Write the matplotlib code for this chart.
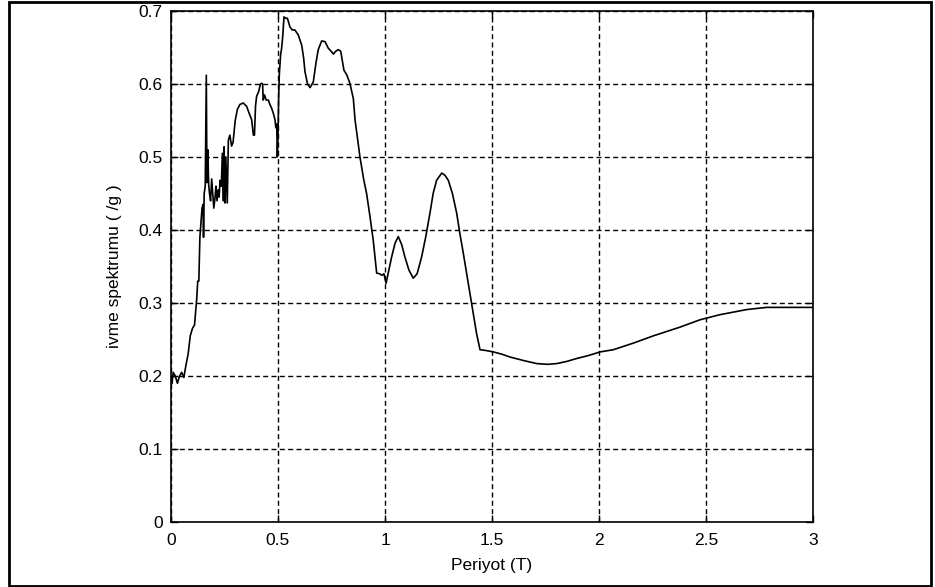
import numpy as np
import matplotlib.pyplot as plt
from matplotlib.patches import Rectangle

plt.rcParams['font.family'] = ['Liberation Sans', 'DejaVu Sans']

# spectrum: period (s) and spectral acceleration (/g)
period = [0.0, 0.005, 0.01, 0.02, 0.03, 0.04, 0.05, 0.06, 0.07, 0.08,
          0.09, 0.10, 0.11, 0.12, 0.125, 0.13, 0.135, 0.14, 0.145, 0.15,
          0.152, 0.155, 0.16, 0.165, 0.168, 0.172, 0.176, 0.18, 0.185, 0.19,
          0.195, 0.2, 0.206, 0.21, 0.215, 0.22, 0.225, 0.229, 0.235, 0.24,
          0.245, 0.248, 0.252, 0.256, 0.263, 0.268, 0.275, 0.283, 0.29, 0.3,
          0.31, 0.322, 0.338, 0.354, 0.365, 0.377, 0.385, 0.39, 0.395, 0.40,
          0.41, 0.418, 0.424, 0.428, 0.431, 0.437, 0.445, 0.455, 0.462, 0.47,
          0.478, 0.486, 0.49, 0.494, 0.497, 0.50, 0.503, 0.506, 0.512, 0.517,
          0.522, 0.528, 0.536, 0.544, 0.556, 0.567, 0.579, 0.595, 0.611, 0.62,
          0.626, 0.638, 0.65, 0.665, 0.678, 0.688, 0.704, 0.72, 0.735, 0.748,
          0.759, 0.77, 0.782, 0.793, 0.808, 0.822, 0.836, 0.852, 0.86, 0.883,
          0.9, 0.914, 0.93, 0.945, 0.961, 0.975, 0.985, 0.995, 1.005, 1.018,
          1.031, 1.047, 1.062, 1.078, 1.093, 1.112, 1.132, 1.15, 1.171, 1.19,
          1.21, 1.225, 1.241, 1.265, 1.28, 1.296, 1.315, 1.335, 1.35, 1.366,
          1.397, 1.428, 1.444, 1.47, 1.506, 1.545, 1.584, 1.65, 1.709, 1.76,
          1.802, 1.85, 1.896, 1.95, 2.005, 2.067, 2.129, 2.16, 2.254, 2.379,
          2.472, 2.565, 2.69, 2.783, 2.9, 3.0]
accel = [0.195, 0.19, 0.205, 0.2, 0.19, 0.2, 0.205, 0.198, 0.215, 0.23,
         0.255, 0.265, 0.27, 0.305, 0.33, 0.33, 0.39, 0.41, 0.43, 0.435,
         0.39, 0.45, 0.46, 0.612, 0.465, 0.51, 0.462, 0.45, 0.44, 0.47,
         0.45, 0.43, 0.445, 0.46, 0.44, 0.455, 0.445, 0.468, 0.46, 0.505,
         0.44, 0.514, 0.437, 0.5, 0.437, 0.523, 0.53, 0.515, 0.52, 0.55,
         0.565, 0.572, 0.574, 0.569, 0.56, 0.551, 0.53, 0.53, 0.57, 0.583,
         0.59, 0.6, 0.601, 0.6, 0.578, 0.585, 0.578, 0.578, 0.572, 0.567,
         0.56, 0.551, 0.54, 0.545, 0.50, 0.53, 0.58, 0.612, 0.64, 0.649,
         0.665, 0.692, 0.69, 0.69, 0.678, 0.674, 0.674, 0.667, 0.653, 0.635,
         0.617, 0.6, 0.595, 0.603, 0.63, 0.647, 0.659, 0.658, 0.649, 0.645,
         0.641, 0.645, 0.647, 0.645, 0.619, 0.612, 0.601, 0.58, 0.551, 0.50,
         0.47, 0.45, 0.418, 0.386, 0.341, 0.34, 0.338, 0.34, 0.327, 0.345,
         0.363, 0.382, 0.391, 0.38, 0.363, 0.345, 0.334, 0.34, 0.363, 0.39,
         0.423, 0.45, 0.468, 0.478, 0.475, 0.468, 0.45, 0.423, 0.395, 0.368,
         0.313, 0.258, 0.236, 0.235, 0.233, 0.23, 0.226, 0.221, 0.217, 0.216,
         0.217, 0.22, 0.224, 0.228, 0.233, 0.236, 0.242, 0.245, 0.255, 0.267,
         0.277, 0.284, 0.291, 0.294, 0.294, 0.294]

xticks = [0, 0.5, 1, 1.5, 2, 2.5, 3]
xticklabels = ['0', '0.5', '1', '1.5', '2', '2.5', '3']
yticks = [0, 0.1, 0.2, 0.3, 0.4, 0.5, 0.6, 0.7]
yticklabels = ['0', '0.1', '0.2', '0.3', '0.4', '0.5', '0.6', '0.7']

fig = plt.figure(figsize=(9.35, 5.87), dpi=100)
ax = fig.add_axes([171 / 935, 1 - 522 / 587, 642 / 935, 511 / 587])

ax.plot(period, accel, color='black', lw=1.2)

ax.set_xlim(0, 3)
ax.set_ylim(0, 0.7)
ax.set_xticks(xticks)
ax.set_xticklabels(xticklabels)
ax.set_yticks(yticks)
ax.set_yticklabels(yticklabels)
ax.tick_params(direction='in', length=5, width=1, top=True, right=True,
               labelsize=12.5)
ax.tick_params(axis='x', pad=8)
ax.tick_params(axis='y', pad=6)
ax.grid(True, color='black', linestyle=(0, (3.6, 2.4)), lw=1)
for s in ax.spines.values():
    s.set_linewidth(1.2)

ax.set_xlabel('Periyot (T)', fontsize=12.5, labelpad=7)
ax.set_ylabel('ivme spektrumu ( /g )', fontsize=12.5, labelpad=12)

# black frame around the whole picture
fig.patches.append(Rectangle((9 / 935, 1 / 587), 922 / 935, 584 / 587,
                             transform=fig.transFigure, fill=False,
                             edgecolor='black', lw=2))

fig.savefig('out.png', dpi=100)
